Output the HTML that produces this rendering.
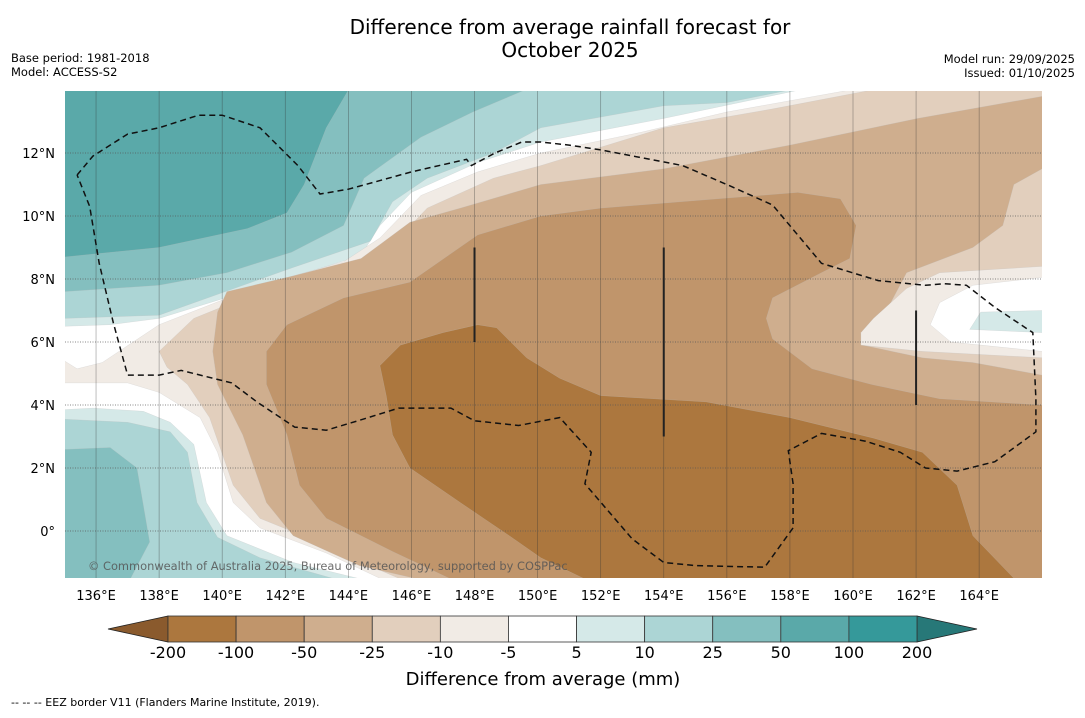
<!DOCTYPE html>
<html><head><meta charset="utf-8"><style>
body{margin:0;background:#fff;}
svg text{font-family:"DejaVu Sans","Liberation Sans",sans-serif;}
</style></head><body>
<svg id="chart" width="1085" height="713" viewBox="0 0 1085 713" xmlns="http://www.w3.org/2000/svg">
<defs><clipPath id="mapclip"><rect x="65" y="91" width="977" height="487"/></clipPath></defs>
<text x="570" y="34" font-size="20" text-anchor="middle">Difference from average rainfall forecast for</text>
<text x="570" y="57" font-size="20" text-anchor="middle">October 2025</text>
<text x="11" y="62" font-size="11.5">Base period: 1981-2018</text>
<text x="11" y="76" font-size="11.5">Model: ACCESS-S2</text>
<text x="1075" y="63" font-size="11.5" text-anchor="end">Model run: 29/09/2025</text>
<text x="1075" y="77" font-size="11.5" text-anchor="end">Issued: 01/10/2025</text>
<g id="map" clip-path="url(#mapclip)"></g>
<g id="axes"></g>
<g id="cbar"></g>
<text x="543" y="685" font-size="18" text-anchor="middle">Difference from average (mm)</text>
<text x="11" y="706" font-size="11">--  --  -- EEZ border V11 (Flanders Marine Institute, 2019).</text>
</svg>
<script>
const lonTicks=[136,138,140,142,144,146,148,150,152,154,156,158,160,162,164];
const latTicks=[0,2,4,6,8,10,12];
const levels=[-200,-100,-50,-25,-10,-5,5,10,25,50,100,200];
const levelColors=['#ac773e','#c0956b','#cfae8e','#e2cfbd','#f1ebe5','#ffffff','#d5e9e8','#acd5d5','#84bfbf','#5aa9a9','#35999a'];
const teal5N=[[134,15],[158.3,15],[158.3,14],[154,13.1],[150.1,12.35],[148.1,11.7],[146,10.75],[145,9.7],[144.4,8.75],[142.2,8.05],[138,6.75],[136.45,6.55],[135,6.5],[134,6.5]];
const teal10N=[[134,15],[158,15],[158,14],[156,13.6],[154,13.5],[150.1,12.8],[148.6,12],[146.5,11.2],[145.4,10.45],[144.7,9.2],[142.2,8.35],[138,6.85],[135,6.75],[134,6.75]];
const teal25N=[[134,15],[149.6,15],[149.6,14],[147.95,13.3],[146.3,12.5],[144.5,11.2],[143.85,9.7],[142.2,8.85],[140.15,8.2],[138,7.8],[135,7.6],[134,7.6]];
const teal50N=[[134,15],[144.2,15],[144,14],[143.3,12.8],[142.6,11],[142.05,10.1],[140.8,9.6],[138,9],[135,8.7],[134,8.7]];
const brown10=[[159.9,15],[159.9,14],[156,13.3],[153.25,12.65],[150.1,12],[148.1,11.4],[146.3,10.65],[145,9.3],[143.85,8.55],[141.2,7.8],[138,6.55],[136.2,5.35],[135.4,5.15],[135,5.4],[134,5.4],[134,4.7],[137,4.7],[138,4.4],[139.3,3.6],[139.85,2.5],[140.35,0.9],[141.2,0.1],[143.3,-0.7],[145,-1.5],[145.2,-2],[167,-2],[167,15]];
const brown25=[[160.6,15],[160.6,14],[157.45,13.4],[154,12.8],[150.1,11.6],[148.6,11.2],[146.5,10.25],[145.4,9.1],[144.4,8.45],[141.2,7.6],[139.1,6.75],[138,5.7],[138.25,5.2],[138.9,4.65],[139.6,3.6],[140.35,1.45],[141.2,0.4],[143.3,-0.45],[144.9,-1.2],[145.6,-1.5],[145.8,-2],[167,-2],[167,15]];
const brown50=[[167,15],[167,13.8],[166,13.8],[162.05,13.1],[158,12.25],[154,11.5],[150.1,11],[147.55,10.25],[145.95,9.8],[144.4,8.65],[142.25,8.1],[140.15,7.6],[139.85,6.95],[139.7,5.7],[139.85,4.65],[140.65,3.05],[141.4,0.9],[142.25,-0.15],[144.35,-1.1],[146.1,-1.5],[146.3,-2],[167,-2]];
const east25=[[167,11.5],[166,11.5],[165.1,11],[164.75,9.7],[163.8,9],[161.7,8.2],[161.2,7.25],[160.3,6.3],[160.3,5.9],[162.2,5.5],[163.8,5.35],[166,4.95],[167,4.95]];
const east10=[[167,8.4],[166,8.4],[162.75,8.2],[161.7,7.7],[160.65,6.75],[160.25,6.3],[160.25,5.9],[162.2,5.7],[166,5.5],[167,5.5]];
const eastWhite=[[167,8.05],[166,8.05],[163.8,7.8],[162.75,7.25],[162.45,6.55],[163.1,6],[166,5.7],[167,5.7]];
const east5=[[167,7],[166,7],[164.05,6.95],[163.7,6.4],[166,6.3],[167,6.3]];
const brown100=[[150.1,10],[152,10.25],[158.25,10.75],[159.6,10.55],[160.1,9.7],[159.9,8.65],[159,8.2],[157.45,7.4],[157.25,6.75],[157.45,6.1],[158.7,5.15],[160.6,4.65],[162.75,4.2],[166,4],[167,4],[167,-2],[147.3,-2],[147.2,-1.5],[145.4,-0.65],[143.3,0.4],[142.45,1.45],[142.05,3.05],[141.4,4.65],[141.4,5.7],[142.05,6.55],[143.85,7.4],[145.95,7.9],[148.1,9.4]];
const brown200=[[145,5.25],[145.65,5.9],[147,6.3],[148.1,6.55],[148.7,6.45],[149.65,5.5],[150.7,4.85],[152,4.3],[155.35,4.1],[158,3.6],[160.65,2.95],[162.2,2.5],[163.3,1.45],[163.8,-0.15],[165.1,-1.5],[165.3,-2],[151.6,-2],[151.45,-1.5],[150.1,-0.85],[149.1,-0.15],[147.55,0.9],[145.95,2],[145.4,3.05],[145.2,4.3]];
const teal5S=[[134,3.8],[135.9,3.9],[137.5,3.8],[138.35,3.45],[139.1,2.75],[139.5,0.9],[140.15,-0.15],[142.25,-1.0],[144.3,-1.5],[144.4,-2],[134,-2]];
const teal10S=[[134,3.6],[137,3.45],[138.35,3.15],[138.9,2.5],[139.2,0.9],[139.85,-0.2],[141.2,-0.85],[143.5,-1.5],[143.6,-2],[134,-2]];
const teal25S=[[134,2.55],[136.45,2.65],[137.3,2],[137.7,-0.35],[137.1,-1.5],[137,-2],[134,-2]];
const eezLine=[[135.4,11.3],[135.9,11.9],[137,12.6],[138,12.8],[139.25,13.2],[140,13.2],[141.2,12.8],[142.4,11.6],[143.1,10.7],[144,10.85],[146,11.4],[147.75,11.8],[147.9,11.6],[148.65,12],[149.5,12.35],[150.1,12.35],[151,12.25],[152,12.1],[154.6,11.6],[156,11],[157.45,10.35],[159,8.5],[160.8,7.95],[162.3,7.8],[162.9,7.85],[163.6,7.8],[164.5,7.1],[165.7,6.3],[165.8,4.2],[165.8,3.15],[164.5,2.2],[163.3,1.9],[162.3,2],[161.5,2.5],[160.4,2.85],[159,3.1],[157.95,2.55],[158.1,1.5],[158.1,0.1],[157.2,-1.15],[155,-1.1],[154,-1],[153,-0.25],[151.5,1.5],[151.7,2.5],[150.7,3.6],[149.4,3.35],[148,3.5],[147.25,3.9],[145.6,3.9],[144.3,3.5],[143.3,3.2],[142.3,3.3],[141.1,4.1],[140.3,4.7],[138.7,5.1],[138,4.95],[137,4.95],[136.55,6.6],[136.1,8.5],[135.8,10.3],[135.4,11.3]];
const vLines=[[148,6,9],[154,3,9],[162,4,7]];

const NS='http://www.w3.org/2000/svg';
const lon2x=lon=>64.5+(lon-135)*31.54;
const lat2y=lat=>531-lat*31.5;
const pts=a=>a.map(p=>lon2x(p[0]).toFixed(1)+','+lat2y(p[1]).toFixed(1)).join(' ');
function mk(tag,attrs,parent){const e=document.createElementNS(NS,tag);for(const k in attrs)e.setAttribute(k,attrs[k]);parent.appendChild(e);return e;}
const map=document.getElementById('map');
const bg=mk('rect',{x:65,y:91,width:977,height:487,fill:'#ffffff'},map);


const layers=[
 ['contour-teal-5-north',teal5N,6],['contour-teal-10-north',teal10N,7],['contour-teal-25-north',teal25N,8],['contour-teal-50-north',teal50N,9],
 ['contour-brown-10',brown10,4],['contour-brown-25',brown25,3],['contour-brown-50',brown50,2],
 ['contour-east-25',east25,3],['contour-east-10',east10,4],['contour-east-white',eastWhite,5],['contour-east-5',east5,6],
 ['contour-brown-100',brown100,1],['contour-brown-200',brown200,0],
 ['contour-teal-5-south',teal5S,6],['contour-teal-10-south',teal10S,7],['contour-teal-25-south',teal25S,8]];
for(const [nm,arr,ci] of layers){
 const p=mk('polygon',{points:pts(arr),fill:levelColors[ci],stroke:'#bbbbbb','stroke-width':0.4,'stroke-opacity':0.5},map);
 
 
}
for(const t of lonTicks){
 const l=mk('line',{x1:lon2x(t),x2:lon2x(t),y1:91,y2:578,stroke:'#333','stroke-width':0.7,'stroke-opacity':0.45},map);
 
 
}
for(const t of latTicks){
 const l=mk('line',{x1:65,x2:1042,y1:lat2y(t),y2:lat2y(t),stroke:'#555','stroke-width':1,'stroke-dasharray':'1,1.5','stroke-opacity':0.7},map);
 
 
}
const eez=mk('polyline',{points:pts(eezLine),fill:'none',stroke:'#111','stroke-width':1.5,'stroke-dasharray':'6,4'},map);


for(const v of vLines){
 const l=mk('line',{x1:lon2x(v[0]),x2:lon2x(v[0]),y1:lat2y(v[2]),y2:lat2y(v[1]),stroke:'#222','stroke-width':2},map);
 
 
}
const cp=mk('text',{x:88,y:570,'font-size':11.4,fill:'#555','fill-opacity':0.85},map);
cp.textContent='© Commonwealth of Australia 2025, Bureau of Meteorology, supported by COSPPac';


const axes=document.getElementById('axes');
for(const t of lonTicks){
 const e=mk('text',{x:lon2x(t),y:600,'font-size':13,'text-anchor':'middle'},axes);
 e.textContent=t+'°E';
 
 
}
for(const t of latTicks){
 const e=mk('text',{x:55,y:lat2y(t)+5,'font-size':13,'text-anchor':'end'},axes);
 e.textContent=t===0?'0°':t+'°N';
 
 
}
const cb=document.getElementById('cbar');
const cbx0=168,cbx1=917,cby=616,cbh=26,n=levelColors.length,bw=(cbx1-cbx0)/n;
const lt=mk('polygon',{points:`108,${cby+cbh/2} ${cbx0},${cby} ${cbx0},${cby+cbh}`,fill:'#8a5a2d',stroke:'#222','stroke-width':0.8},cb);


const rt=mk('polygon',{points:`977,${cby+cbh/2} ${cbx1},${cby} ${cbx1},${cby+cbh}`,fill:'#277878',stroke:'#222','stroke-width':0.8},cb);


levelColors.forEach((c,i)=>{
 const r=mk('rect',{x:cbx0+i*bw,y:cby,width:bw,height:cbh,fill:c,stroke:'#333','stroke-width':0.8},cb);
 
 
});
levels.forEach((v,i)=>{
 const t=mk('text',{x:cbx0+i*bw,y:658,'font-size':16,'text-anchor':'middle'},cb);
 t.textContent=v;
 
 
});
</script>
</body></html>
